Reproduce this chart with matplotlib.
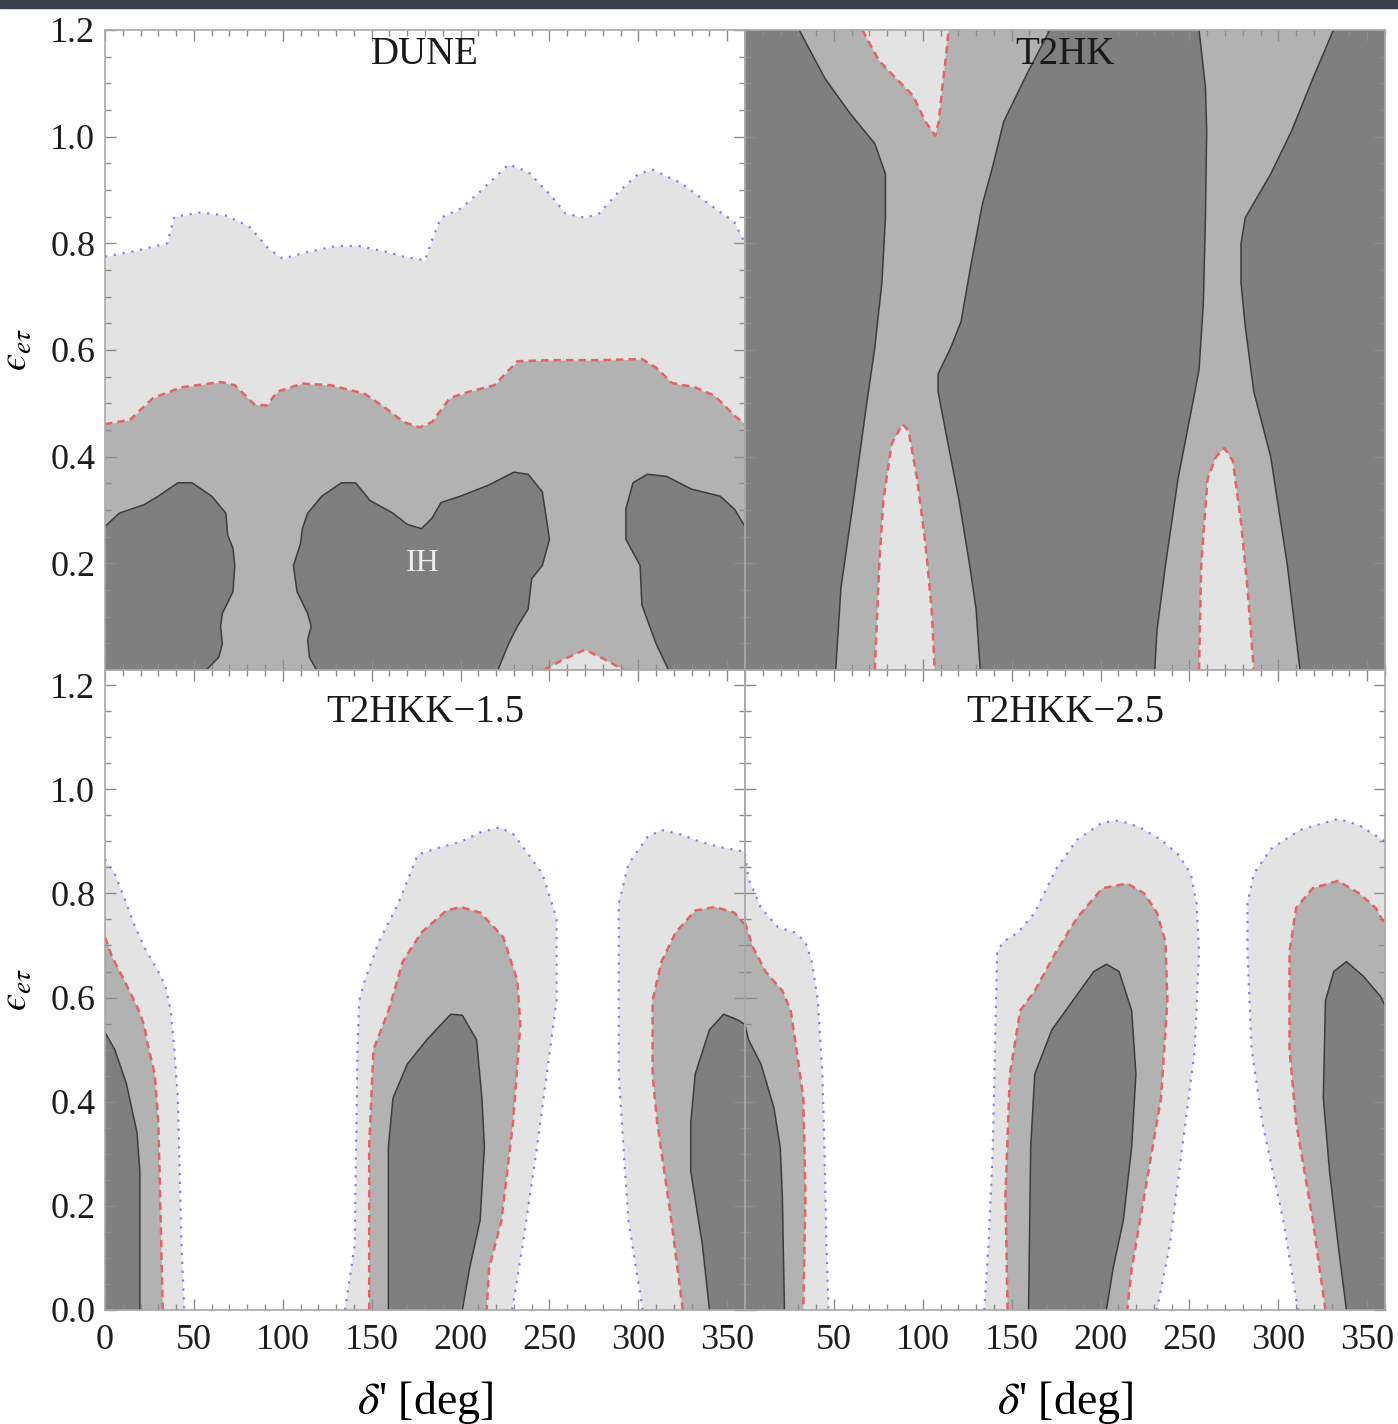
import matplotlib
matplotlib.use("Agg")
import matplotlib.pyplot as plt
from matplotlib.ticker import MultipleLocator, FixedLocator
from matplotlib.patches import Rectangle

plt.rcParams['font.family'] = ['Liberation Serif', 'DejaVu Serif']
plt.rcParams['mathtext.fontset'] = 'stix'

# axis ranges
X_MIN, X_MAX = 0, 360
Y_TOP_ROW = 1.2
Y_BOTTOM_ROW = 1.229

X_TICKS = [0, 50, 100, 150, 200, 250, 300, 350]
Y_TICKS = [0.0, 0.2, 0.4, 0.6, 0.8, 1.0, 1.2]

# ---------------- DUNE ----------------
DUNE_3SIG = [(0, 0.775), (16, 0.785), (35, 0.80), (39, 0.85), (54, 0.858), (68, 0.852), (81, 0.832),
             (92, 0.79), (100, 0.771), (113, 0.783), (130, 0.795), (143, 0.795), (157, 0.785),
             (168, 0.775), (180, 0.768), (184, 0.807), (189, 0.848), (200, 0.865), (211, 0.897),
             (227, 0.948), (238, 0.934), (251, 0.889), (259, 0.856), (270, 0.848), (278, 0.856),
             (289, 0.897), (300, 0.93), (308, 0.938), (324, 0.913), (340, 0.873), (354, 0.84), (360, 0.80)]
DUNE_2SIG = [(0, 0.461), (14, 0.469), (27, 0.51), (43, 0.53), (65, 0.54), (73, 0.534), (84, 0.498),
             (91, 0.496), (97, 0.522), (111, 0.537), (127, 0.534), (146, 0.518), (157, 0.493),
             (168, 0.465), (177, 0.455), (184, 0.465), (194, 0.51), (205, 0.522), (219, 0.534),
             (232, 0.579), (251, 0.581), (278, 0.581), (302, 0.583), (310, 0.567), (319, 0.538),
             (332, 0.53), (343, 0.514), (354, 0.477), (360, 0.461)]
DUNE_3SIG_BUMP = [(247, 0), (258, 0.02), (270, 0.038), (281, 0.02), (292, 0)]
DUNE_1SIG_A = [(0, 0.269), (8, 0.294), (22, 0.31), (30, 0.326), (41, 0.351), (49, 0.351), (60, 0.326),
               (68, 0.294), (69, 0.253), (72, 0.228), (73, 0.196), (72, 0.147), (66, 0.106),
               (65, 0.082), (66, 0.049), (64, 0.024), (57, 0)]
DUNE_1SIG_B = [(119, 0), (115, 0.024), (114, 0.057), (116, 0.082), (114, 0.106), (108, 0.147),
               (106, 0.196), (110, 0.237), (111, 0.265), (114, 0.294), (122, 0.326), (133, 0.351),
               (141, 0.351), (149, 0.318), (162, 0.294), (170, 0.273), (178, 0.265), (184, 0.285),
               (189, 0.314), (200, 0.326), (216, 0.347), (230, 0.371), (238, 0.367), (246, 0.334),
               (250, 0.245), (246, 0.196), (240, 0.171), (238, 0.114), (232, 0.082), (227, 0.049), (221, 0)]
DUNE_1SIG_C = [(317, 0), (310, 0.049), (302, 0.122), (301, 0.196), (293, 0.245), (293, 0.302),
               (297, 0.351), (305, 0.367), (316, 0.363), (330, 0.339), (346, 0.326), (354, 0.302), (360, 0.269)]

# ---------------- T2HK ----------------
T2HK_1SIG_LEFT = [(30.5, 1.2), (45, 1.109), (59, 1.044), (73, 0.987), (79, 0.93), (79, 0.848),
                  (77, 0.726), (73, 0.604), (68, 0.489), (61, 0.318), (54, 0.155), (51, 0)]
T2HK_3SIG_TOP = [(66, 1.2), (75.5, 1.142), (85, 1.109), (94.5, 1.077), (101.5, 1.028), (107, 1.002),
                 (109, 1.028), (111, 1.093), (113.3, 1.158), (114.5, 1.2)]
T2HK_1SIG_MID_L = [(171.5, 1.2), (158.5, 1.117), (145.5, 1.028), (139.5, 0.946), (133.5, 0.873),
                   (127.5, 0.767), (121.5, 0.653), (115.7, 0.604), (108.6, 0.555), (108.6, 0.522),
                   (113.3, 0.44), (120.4, 0.318), (126.4, 0.196), (130, 0.114), (132.3, 0)]
T2HK_1SIG_MID_R = [(230.5, 0), (231.7, 0.073), (236.5, 0.196), (243.6, 0.359), (250.7, 0.481),
                   (255.4, 0.563), (257.8, 0.685), (259, 0.848), (259.7, 1.011), (259, 1.093), (255.4, 1.2)]
T2HK_1SIG_RIGHT = [(331, 1.2), (319.4, 1.109), (307.5, 1.011), (295.7, 0.93), (281.4, 0.848),
                   (279, 0.8), (279, 0.726), (281.4, 0.644), (286.2, 0.522), (295.7, 0.4),
                   (305.1, 0.196), (312.2, 0)]
T2HK_3SIG_LOW_A = [(73, 0), (75.5, 0.196), (77.8, 0.318), (82.5, 0.424), (88.5, 0.461), (92, 0.449),
                   (96.8, 0.359), (101.5, 0.237), (105, 0.114), (106.7, 0)]
T2HK_3SIG_LOW_B = [(255.4, 0), (256.6, 0.196), (260.2, 0.359), (265, 0.4), (269.6, 0.416),
                   (274.4, 0.392), (279, 0.277), (282.6, 0.155), (286.2, 0)]

# ---------------- T2HKK-1.5 ----------------
K15_3SIG_A = [(0, 0.866), (5.5, 0.838), (11, 0.79), (16, 0.744), (22, 0.697), (30, 0.65), (34, 0.622),
              (37, 0.575), (39, 0.50), (41, 0.407), (42, 0.266), (43, 0.126), (44.6, 0)]
K15_2SIG_A = [(0, 0.716), (4, 0.678), (11, 0.632), (19, 0.575), (22, 0.547), (24, 0.51), (28, 0.453),
              (30, 0.36), (31, 0.219), (32.5, 0)]
K15_1SIG_A = [(0, 0.533), (5.5, 0.50), (12, 0.435), (18, 0.341), (19.6, 0.266), (19.6, 0)]
K15_3SIG_B = [(135, 0), (140.5, 0.126), (142, 0.50), (143, 0.594), (146, 0.632), (154, 0.707),
              (165, 0.781), (176, 0.875), (189, 0.889), (200, 0.899), (211, 0.917), (222, 0.927),
              (230, 0.913), (246, 0.838), (254, 0.753), (254, 0.594), (243, 0.313), (235, 0.126), (229, 0)]
K15_2SIG_B = [(148.6, 0), (148.6, 0.313), (151, 0.50), (159.5, 0.575), (167.5, 0.669), (178, 0.725),
              (192, 0.767), (200, 0.774), (211, 0.763), (224, 0.716), (232, 0.632), (233.6, 0.547),
              (229.5, 0.36), (223, 0.172), (216, 0.079), (214.7, 0)]
K15_1SIG_B = [(159.4, 0), (159.4, 0.313), (162, 0.407), (170, 0.472), (181, 0.519), (194.5, 0.568),
              (201, 0.566), (209, 0.519), (212, 0.407), (213.4, 0.313), (211, 0.172), (205, 0.079), (201, 0)]
K15_3SIG_C = [(302.5, 0), (294.4, 0.172), (291.6, 0.313), (289, 0.453), (289, 0.781), (294.4, 0.856),
              (305, 0.908), (313, 0.922), (324, 0.913), (335, 0.899), (346, 0.889), (360, 0.88)]
K15_2SIG_C = [(325, 0), (318.6, 0.172), (310.6, 0.36), (308, 0.453), (308, 0.594), (313, 0.669),
              (321, 0.725), (332, 0.767), (343, 0.774), (354, 0.763), (360, 0.74)]
K15_1SIG_C = [(340, 0), (336, 0.126), (329.5, 0.266), (329.5, 0.36), (332, 0.453), (340, 0.538),
              (348, 0.568), (356, 0.557), (360, 0.548)]

# ---------------- T2HKK-2.5 ----------------
K25_3SIG_A = [(0, 0.875), (2, 0.828), (9, 0.772), (18.6, 0.735), (28, 0.725), (34, 0.707), (37.6, 0.669),
              (41, 0.594), (43.5, 0.453), (44.7, 0.313), (45.8, 0.126), (47, 0)]
K25_2SIG_A = [(0, 0.744), (4.4, 0.697), (11.5, 0.65), (21, 0.613), (25.7, 0.575), (29, 0.50),
              (32.8, 0.407), (34, 0.219), (32.8, 0)]
K25_1SIG_A = [(0, 0.547), (2, 0.519), (9, 0.472), (16.3, 0.388), (19.8, 0.313), (21, 0.219), (22.2, 0)]
K25_3SIG_B = [(134.6, 0), (137, 0.126), (139.4, 0.313), (140.6, 0.50), (141.8, 0.688), (145.3, 0.707),
              (153.6, 0.725), (163, 0.763), (175, 0.847), (186.8, 0.903), (201, 0.936), (210.4, 0.94),
              (222, 0.927), (234, 0.903), (243.6, 0.875), (250.7, 0.838), (254, 0.781), (255.4, 0.688),
              (253, 0.50), (246, 0.313), (239, 0.126), (231.7, 0)]
K25_2SIG_B = [(147.7, 0), (146.5, 0.219), (149, 0.453), (154.8, 0.575), (163, 0.613), (175, 0.688),
              (186.8, 0.753), (201, 0.81), (215, 0.819), (224.6, 0.80), (231.7, 0.763), (236.5, 0.707),
              (237.6, 0.594), (234, 0.407), (224.6, 0.219), (217.5, 0.079), (215, 0)]
K25_1SIG_B = [(159.5, 0), (160.7, 0.313), (163, 0.453), (172.6, 0.538), (184.4, 0.594), (196.2, 0.65),
              (203.3, 0.664), (210.4, 0.65), (217.5, 0.575), (219.9, 0.453), (217.5, 0.313),
              (212.8, 0.172), (207, 0.079), (203.3, 0)]
K25_3SIG_C = [(311, 0), (302.8, 0.172), (291, 0.36), (285, 0.50), (282.6, 0.688), (282.6, 0.781),
              (286.2, 0.838), (295.7, 0.885), (312.2, 0.922), (333.6, 0.943), (345.4, 0.931), (360, 0.90)]
K25_2SIG_C = [(326.5, 0), (319.4, 0.172), (310, 0.36), (306.3, 0.50), (306.3, 0.688), (310, 0.772),
              (319.4, 0.81), (333.6, 0.824), (345.4, 0.80), (354.8, 0.772), (360, 0.74)]
K25_1SIG_C = [(338.3, 0), (333.6, 0.126), (328.8, 0.266), (325.3, 0.407), (326.5, 0.594), (331.2, 0.65),
              (338.3, 0.669), (347.8, 0.641), (357.3, 0.603), (360, 0.585)]

FILLS = {1: '#7f7f7f', 2: '#b2b2b2', 3: '#e3e3e3'}
LINES = {1: dict(color='#3c3c3c', lw=1.1, ls='-'),
         2: dict(color='#e46464', lw=1.8, ls=(0, (3, 2))),
         3: dict(color='#8080e6', lw=1.6, ls=(0, (1, 3)))}


def region(ax, level, curves, corners=(), edge=None):
    # edge: which contour style the outline uses (defaults to the fill level)
    pts = [p for c in curves for p in c] + list(corners)
    xs, ys = zip(*pts)
    ax.fill(xs, ys, color=FILLS[level], lw=0, zorder=1)
    for c in curves:
        cx, cy = zip(*c)
        ax.plot(cx, cy, zorder=2, **LINES[edge or level])


def style(ax, ytop, xlabels, ylabels):
    ax.set_xlim(X_MIN, X_MAX)
    ax.set_ylim(0, ytop)
    ax.xaxis.set_major_locator(FixedLocator(X_TICKS))
    ax.xaxis.set_minor_locator(MultipleLocator(10))
    ax.yaxis.set_major_locator(FixedLocator(Y_TICKS))
    ax.yaxis.set_minor_locator(MultipleLocator(0.05))
    ax.set_xticklabels(xlabels)
    ax.set_yticklabels(ylabels)
    ax.tick_params(which='both', direction='in', top=True, right=True,
                   color='#8c8c8c', width=1, labelsize=26, labelcolor='#1e1e1e')
    ax.tick_params(which='major', length=8)
    ax.tick_params(which='minor', length=4.5)
    ax.tick_params(axis='x', pad=10)
    ax.tick_params(axis='y', pad=7)
    for sp in ax.spines.values():
        sp.set_color('#a8a8a8')
        sp.set_linewidth(1.2)
        sp.set_zorder(3)


fig = plt.figure(figsize=(13.98, 14.24), dpi=100)
fig.add_artist(Rectangle((0, 1 - 8 / 1424), 1, 8 / 1424, transform=fig.transFigure,
                         color='#3a3f4e', zorder=0))

W, H = 640 / 1398, 640 / 1424
LX, RX = 105 / 1398, 745 / 1398
TY, BY = 1 - 670 / 1424, 1 - 1310 / 1424

ax_dune = fig.add_axes([LX, TY, W, H])
ax_t2hk = fig.add_axes([RX, TY, W, H])
ax_k15 = fig.add_axes([LX, BY, W, H])
ax_k25 = fig.add_axes([RX, BY, W, H])

# DUNE
ax = ax_dune
ax.fill_between(*zip(*DUNE_3SIG), 0, color=FILLS[3], lw=0, zorder=1)
ax.plot(*zip(*DUNE_3SIG), zorder=2, **LINES[3])
ax.fill_between(*zip(*DUNE_2SIG), 0, color=FILLS[2], lw=0, zorder=1)
ax.plot(*zip(*DUNE_2SIG), zorder=2, **LINES[2])
region(ax, 3, [DUNE_3SIG_BUMP], edge=2)
region(ax, 1, [DUNE_1SIG_A], [(X_MIN, 0)])
region(ax, 1, [DUNE_1SIG_B])
region(ax, 1, [DUNE_1SIG_C], [(X_MAX, 0)])
ax.text(179, 0.2, 'IH', color='#ececec', fontsize=23, ha='center', va='center', zorder=4)

# T2HK
ax = ax_t2hk
ax.set_facecolor(FILLS[2])
region(ax, 1, [T2HK_1SIG_LEFT], [(X_MIN, 0), (X_MIN, Y_TOP_ROW)])
region(ax, 1, [T2HK_1SIG_MID_L, T2HK_1SIG_MID_R])
region(ax, 1, [T2HK_1SIG_RIGHT], [(X_MAX, 0), (X_MAX, Y_TOP_ROW)])
region(ax, 3, [T2HK_3SIG_TOP], edge=2)
region(ax, 3, [T2HK_3SIG_LOW_A], edge=2)
region(ax, 3, [T2HK_3SIG_LOW_B], edge=2)

# T2HKK-1.5 and T2HKK-2.5
for ax, sets in [(ax_k15, [(K15_3SIG_A, K15_3SIG_B, K15_3SIG_C),
                           (K15_2SIG_A, K15_2SIG_B, K15_2SIG_C),
                           (K15_1SIG_A, K15_1SIG_B, K15_1SIG_C)]),
                 (ax_k25, [(K25_3SIG_A, K25_3SIG_B, K25_3SIG_C),
                           (K25_2SIG_A, K25_2SIG_B, K25_2SIG_C),
                           (K25_1SIG_A, K25_1SIG_B, K25_1SIG_C)])]:
    for level, (a, b, c) in zip([3, 2, 1], sets):
        region(ax, level, [a], [(X_MIN, 0)])
        region(ax, level, [b])
        region(ax, level, [c], [(X_MAX, 0)])

no_x = [''] * len(X_TICKS)
no_y = [''] * len(Y_TICKS)
style(ax_dune, Y_TOP_ROW, no_x, [''] + ['%.1f' % v for v in Y_TICKS[1:]])
style(ax_t2hk, Y_TOP_ROW, no_x, no_y)
style(ax_k15, Y_BOTTOM_ROW, [str(v) for v in X_TICKS], ['%.1f' % v for v in Y_TICKS])
style(ax_k25, Y_BOTTOM_ROW, [''] + [str(v) for v in X_TICKS[1:]], no_y)

titles = [(ax_dune, 'DUNE', 0.961), (ax_t2hk, 'T2HK', 0.961),
          (ax_k15, 'T2HKK\u22121.5', 0.934), (ax_k25, 'T2HKK\u22122.5', 0.934)]
for ax, name, ty in titles:
    ax.text(0.5, ty, name, transform=ax.transAxes, ha='center', va='center',
            fontsize=28, color='#1a1a1a', zorder=4)

for yf in (1 - 350 / 1424, 1 - 990 / 1424):
    fig.text(17 / 1398, yf, '$\u03f5_{e\\tau}$', rotation=90, ha='center', va='center', fontsize=28)
for xf in (425 / 1398, 1065 / 1398):
    fig.text(xf, 1 - 1403 / 1424, r"$\delta$' [deg]", ha='center', va='center', fontsize=33)

fig.savefig('out.png', dpi=100)
